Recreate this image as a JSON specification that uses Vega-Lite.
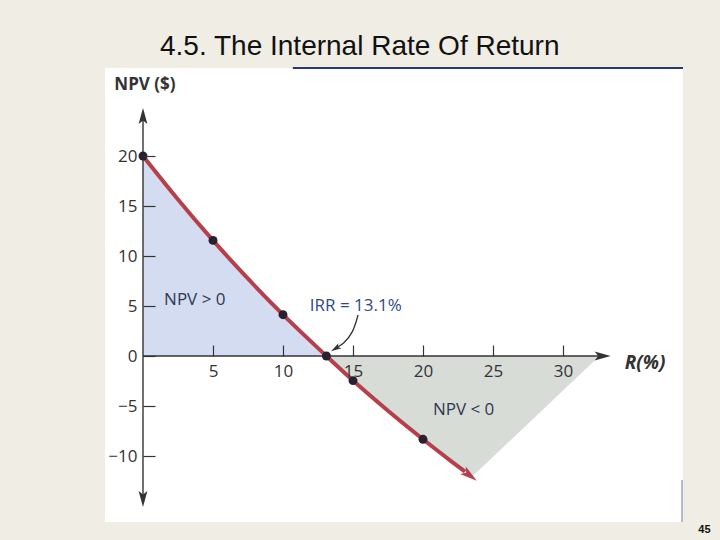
{
  "$schema": "https://vega.github.io/schema/vega-lite/v6.json",
  "width": 578,
  "height": 454,
  "autosize": {"type": "none"},
  "padding": {"left": 105, "top": 68, "right": 37, "bottom": 18},
  "background": "#f0ede5",
  "config": {"view": {"fill": "white", "stroke": null}, "font": "Open Sans"},
  "title": {
    "text": "4.5. The Internal Rate Of Return",
    "anchor": "start",
    "frame": "group",
    "dx": 55,
    "offset": 6,
    "font": "Liberation Sans",
    "fontSize": 28,
    "fontWeight": "normal",
    "color": "#111111"
  },
  "datasets": {
    "blue": [
      {"r": 0, "npv": 20},
      {"r": 2.5, "npv": 15.65},
      {"r": 5, "npv": 11.56},
      {"r": 7.5, "npv": 7.73},
      {"r": 10, "npv": 4.13},
      {"r": 13.1, "npv": 0}
    ],
    "grey": [
      {"r": 13.1, "npv": 0},
      {"r": 15, "npv": -2.46},
      {"r": 17.5, "npv": -5.48},
      {"r": 20, "npv": -8.33},
      {"r": 22, "npv": -10.51},
      {"r": 23.5, "npv": -12.08},
      {"r": 32.6, "npv": 0}
    ],
    "curve": [
      {"r": 0, "npv": 20},
      {"r": 2.5, "npv": 15.65},
      {"r": 5, "npv": 11.56},
      {"r": 7.5, "npv": 7.73},
      {"r": 10, "npv": 4.13},
      {"r": 13.1, "npv": 0},
      {"r": 15, "npv": -2.46},
      {"r": 17.5, "npv": -5.48},
      {"r": 20, "npv": -8.33},
      {"r": 22, "npv": -10.51},
      {"r": 23, "npv": -11.56}
    ],
    "dots": [
      {"r": 0, "npv": 20},
      {"r": 5, "npv": 11.56},
      {"r": 10, "npv": 4.13},
      {"r": 13.1, "npv": 0},
      {"r": 15, "npv": -2.46},
      {"r": 20, "npv": -8.33}
    ],
    "axlines": [
      {"r": 0, "r2": 0, "npv": -14.3, "npv2": 24.0},
      {"r": 0, "r2": 32.8, "npv": 0, "npv2": 0}
    ],
    "frame": [
      {"r": 10.7, "r2": 38.571, "npv": 28.8, "npv2": 28.8}
    ],
    "rightedge": [
      {"r": 38.5, "r2": 38.5, "npv": -16.6, "npv2": -12.4}
    ],
    "axarrows": [
      {"r": 0, "npv": 24.0, "dir": 0},
      {"r": 0, "npv": -14.3, "dir": 180},
      {"r": 32.83, "npv": 0, "dir": 90}
    ],
    "curvearrow": [{"r": 23.35, "npv": -11.95, "dir": 127}],
    "irrline": [
      {"r": 15.36, "npv": 4.1},
      {"r": 15.0, "npv": 2.3},
      {"r": 14.3, "npv": 1.2},
      {"r": 13.9, "npv": 0.9}
    ],
    "irrarrow": [{"r": 13.75, "npv": 0.75, "dir": 238}],
    "regionlabels": [
      {"r": 3.7, "npv": 5.6, "label": "NPV > 0"},
      {"r": 22.9, "npv": -5.4, "label": "NPV < 0"}
    ],
    "irrlabel": [{"r": 15.2, "npv": 5.0, "label": "IRR = 13.1%"}],
    "ylabel": [{"r": 0.14, "npv": 27.1, "label": "NPV ($)"}],
    "xlabel": [{"r": 35.86, "npv": -0.7, "label": "R(%)"}],
    "pagenum": [{"r": 40.1, "npv": -17.4, "label": "45"}]
  },
  "encoding": {
    "x": {
      "field": "r", "type": "quantitative",
      "scale": {"domain": [-2.714, 38.571], "nice": false, "zero": false},
      "axis": {
        "orient": "bottom", "offset": -166, "domain": false, "grid": false, "zindex": 1,
        "values": [5, 10, 15, 20, 25, 30], "tickSize": -11, "labelPadding": 18,
        "tickColor": "#333333", "tickWidth": 1.2, "labelFont": "Open Sans",
        "labelFontSize": 17, "labelColor": "#333333", "title": null
      }
    },
    "y": {
      "field": "npv", "type": "quantitative",
      "scale": {"domain": [-16.6, 28.8], "nice": false, "zero": false},
      "axis": {
        "orient": "left", "offset": -38, "domain": false, "grid": false, "zindex": 1,
        "values": [-10, -5, 0, 5, 10, 15, 20], "tickSize": -12, "labelPadding": 18,
        "tickColor": "#333333", "tickWidth": 1.2, "labelFont": "Open Sans",
        "labelFontSize": 17, "labelColor": "#333333", "title": null
      }
    }
  },
  "layer": [
    {
      "data": {"name": "blue"},
      "mark": {"type": "area", "color": "#d4dcf1", "opacity": 1},
      "encoding": {"y2": {"datum": 0}}
    },
    {
      "data": {"name": "grey"},
      "mark": {"type": "area", "color": "#d8dcd7", "opacity": 1},
      "encoding": {"y2": {"datum": 0}}
    },
    {
      "data": {"name": "frame"},
      "mark": {"type": "rule", "color": "#2c3872", "strokeWidth": 2},
      "encoding": {"x2": {"field": "r2"}, "y2": {"field": "npv2"}}
    },
    {
      "data": {"name": "rightedge"},
      "mark": {"type": "rule", "color": "#6b78a0", "strokeWidth": 1},
      "encoding": {"x2": {"field": "r2"}, "y2": {"field": "npv2"}}
    },
    {
      "data": {"name": "axlines"},
      "mark": {"type": "rule", "color": "#333333", "strokeWidth": 1.4},
      "encoding": {"x2": {"field": "r2"}, "y2": {"field": "npv2"}}
    },
    {
      "data": {"name": "axarrows"},
      "mark": {"type": "point", "shape": "M0,-1L0.55,1L0,0.55L-0.55,1Z", "filled": true, "color": "#333333", "size": 256, "opacity": 1},
      "encoding": {"angle": {"field": "dir", "type": "quantitative", "scale": null}}
    },
    {
      "data": {"name": "curve"},
      "mark": {"type": "line", "color": "#b5404b", "strokeWidth": 4, "interpolate": "monotone"},
      "encoding": {}
    },
    {
      "data": {"name": "curvearrow"},
      "mark": {"type": "point", "shape": "M0,-1L0.55,1L0,0.55L-0.55,1Z", "filled": true, "color": "#b5404b", "size": 300, "opacity": 1},
      "encoding": {"angle": {"field": "dir", "type": "quantitative", "scale": null}}
    },
    {
      "data": {"name": "dots"},
      "mark": {"type": "circle", "color": "#2a1f2e", "size": 80, "opacity": 1},
      "encoding": {}
    },
    {
      "data": {"name": "irrline"},
      "mark": {"type": "line", "color": "#333333", "strokeWidth": 1.3, "interpolate": "basis"},
      "encoding": {}
    },
    {
      "data": {"name": "irrarrow"},
      "mark": {"type": "point", "shape": "M0,-1L0.55,1L0,0.55L-0.55,1Z", "filled": true, "color": "#333333", "size": 110, "opacity": 1},
      "encoding": {"angle": {"field": "dir", "type": "quantitative", "scale": null}}
    },
    {
      "data": {"name": "regionlabels"},
      "mark": {"type": "text", "font": "Open Sans", "fontSize": 17, "color": "#2f3850", "align": "center", "baseline": "middle"},
      "encoding": {"text": {"field": "label"}}
    },
    {
      "data": {"name": "irrlabel"},
      "mark": {"type": "text", "font": "Open Sans", "fontSize": 17, "color": "#34478a", "align": "center", "baseline": "middle"},
      "encoding": {"text": {"field": "label"}}
    },
    {
      "data": {"name": "ylabel"},
      "mark": {"type": "text", "font": "Open Sans", "fontSize": 17, "fontWeight": "bold", "color": "#333333", "align": "center", "baseline": "middle"},
      "encoding": {"text": {"field": "label"}}
    },
    {
      "data": {"name": "xlabel"},
      "mark": {"type": "text", "font": "Open Sans", "fontSize": 19, "fontWeight": "bold", "fontStyle": "italic", "color": "#333333", "align": "center", "baseline": "middle"},
      "encoding": {"text": {"field": "label"}}
    },
    {
      "data": {"name": "pagenum"},
      "mark": {"type": "text", "font": "Liberation Sans", "fontSize": 11, "fontWeight": "bold", "color": "#111111", "align": "center", "baseline": "middle"},
      "encoding": {"text": {"field": "label"}}
    }
  ]
}
